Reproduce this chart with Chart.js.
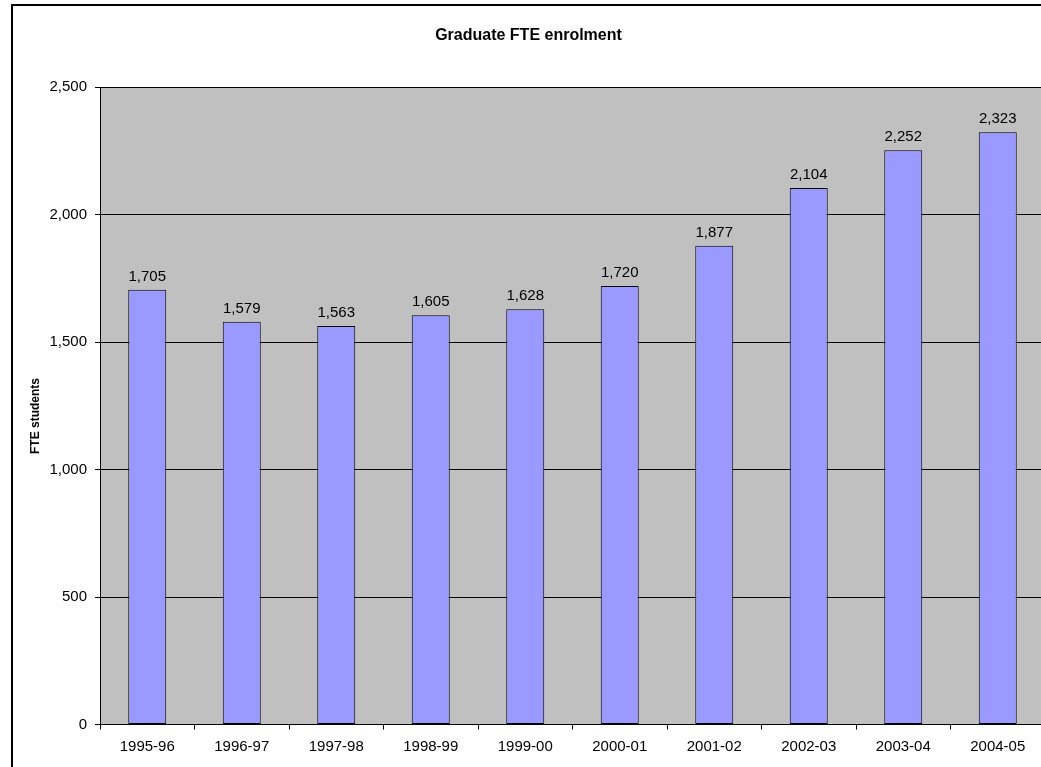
<!DOCTYPE html>
<html>
<head>
<meta charset="utf-8">
<script src="https://cdn.jsdelivr.net/npm/chart.js@4.4.1/dist/chart.umd.min.js"></script>
<style>
  html, body { margin: 0; padding: 0; background: #ffffff; overflow: hidden; width: 1041px; height: 767px; }
  #wrap { position: absolute; left: 0; top: 0; width: 1060px; height: 790px; }
  canvas { display: block; }
</style>
</head>
<body>
<div id="wrap"><canvas id="c" width="1060" height="790"></canvas></div>
<script>
const categories = ['1995-96', '1996-97', '1997-98', '1998-99', '1999-00', '2000-01', '2001-02', '2002-03', '2003-04', '2004-05'];
const enrolment = [1705, 1579, 1563, 1605, 1628, 1720, 1877, 2104, 2252, 2323];
const yTickValues = [0, 500, 1000, 1500, 2000, 2500];
const chartTitle = 'Graduate FTE enrolment';
const yAxisTitle = 'FTE students';

const FONT = "'Liberation Sans', Arial, sans-serif";
const fmt = v => Number(v).toLocaleString('en-US');

const frame = {
  id: 'frame',
  beforeDraw(chart) {
    const ctx = chart.ctx;
    const a = chart.chartArea;
    ctx.save();
    ctx.fillStyle = '#ffffff';
    ctx.fillRect(0, 0, chart.width, chart.height);
    ctx.strokeStyle = '#000000';
    ctx.lineWidth = 2;
    ctx.strokeRect(12, 5, chart.width + 50, chart.height + 50);
    ctx.fillStyle = '#C0C0C0';
    ctx.fillRect(a.left, a.top, a.right - a.left, a.bottom - a.top);
    ctx.restore();
  },
  afterDraw(chart) {
    const ctx = chart.ctx;
    ctx.save();
    ctx.translate(36, 416);
    ctx.rotate(-Math.PI / 2);
    ctx.font = 'bold 12px ' + FONT;
    ctx.fillStyle = '#000000';
    ctx.textAlign = 'center';
    ctx.textBaseline = 'middle';
    ctx.fillText(yAxisTitle, 0, 0);
    ctx.restore();
  }
};

const valueLabels = {
  id: 'valueLabels',
  afterDatasetsDraw(chart) {
    const ctx = chart.ctx;
    const meta = chart.getDatasetMeta(0);
    ctx.save();
    ctx.font = '15px ' + FONT;
    ctx.fillStyle = '#000000';
    ctx.textAlign = 'center';
    ctx.textBaseline = 'alphabetic';
    meta.data.forEach((bar, i) => {
      ctx.fillText(fmt(enrolment[i]), bar.x, bar.y - 9);
    });
    ctx.restore();
  }
};

new Chart(document.getElementById('c'), {
  type: 'bar',
  data: {
    labels: categories,
    datasets: [{
      data: enrolment,
      backgroundColor: '#9999FF',
      borderColor: '#000000',
      borderWidth: 1,
      borderSkipped: false,
      barPercentage: 0.402,
      categoryPercentage: 1.0
    }]
  },
  options: {
    responsive: false,
    devicePixelRatio: 1,
    animation: false,
    layout: { padding: { left: 12, top: 5, right: 15, bottom: 20 } },
    plugins: {
      legend: { display: false },
      tooltip: { enabled: false },
      title: {
        display: true,
        text: chartTitle,
        color: '#000000',
        font: { family: FONT, size: 16, weight: 'bold', lineHeight: 1.2 },
        padding: { top: 21, bottom: 41.8 }
      }
    },
    scales: {
      x: {
        type: 'category',
        offset: true,
        grid: { display: true, drawOnChartArea: false, drawTicks: true, tickLength: 5, color: '#000000', offset: true },
        border: { display: true, color: '#000000', width: 1 },
        ticks: { color: '#000000', font: { family: FONT, size: 15 }, padding: 8, maxRotation: 0, autoSkip: false },
        afterFit(scale) { scale.height = 45.5; }
      },
      y: {
        min: 0,
        max: 2500,
        afterBuildTicks(scale) { scale.ticks = yTickValues.map(v => ({ value: v })); },
        grid: { color: '#000000', lineWidth: 1, drawTicks: true, tickLength: 5 },
        border: { display: true, color: '#000000', width: 1 },
        ticks: { color: '#000000', font: { family: FONT, size: 15 }, padding: 8, callback: v => fmt(v) },
        title: { display: false, text: yAxisTitle },
        afterFit(scale) { scale.width = 88; }
      }
    }
  },
  plugins: [frame, valueLabels]
});
</script>
</body>
</html>
